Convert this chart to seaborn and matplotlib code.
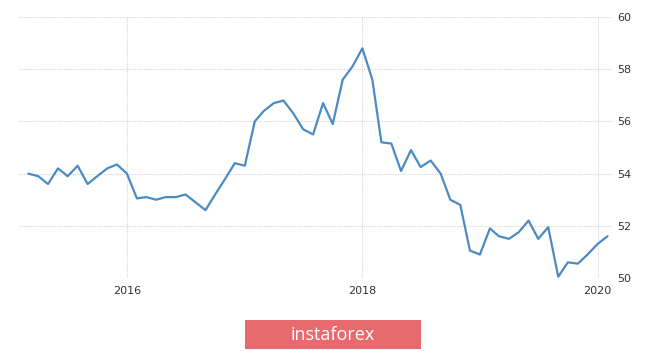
import numpy as np
import pandas as pd
import seaborn as sns
import matplotlib.pyplot as plt
import matplotlib.dates as mdates
from matplotlib.patches import Rectangle

# monthly index values, Mar 2015 .. Feb 2020
months = pd.date_range("2015-03-01", periods=60, freq="MS")
values = [
    54.0, 53.9, 53.6, 54.2, 53.9, 54.3, 53.6, 53.9, 54.2, 54.35,   # 2015
    54.0, 53.05, 53.1, 53.0, 53.1, 53.1, 53.2, 52.9, 52.6, 53.2,   # 2016
    53.8, 54.4, 54.3, 56.0, 56.4, 56.7, 56.8, 56.3, 55.7, 55.5,    # 2017
    56.7, 55.9, 57.6, 58.1, 58.8, 57.6, 55.2, 55.15, 54.1, 54.9,   # 2018
    54.25, 54.5, 54.0, 53.0, 52.8, 51.05, 50.9, 51.9, 51.6, 51.5,
    51.75, 52.2, 51.5, 51.95, 50.05, 50.6, 50.55, 50.9, 51.3, 51.6,
]
y_ticks = [50, 52, 54, 56, 58, 60]
x_tick_years = [2016, 2018, 2020]

df = pd.DataFrame({"month": months, "value": values})

sns.set_style("white")
fig = plt.figure(figsize=(6.65, 3.51), dpi=100)
ax = fig.add_axes([19 / 665, 1 - 278 / 351, (612 - 19) / 665, (278 - 17) / 351])

sns.lineplot(data=df, x="month", y="value", ax=ax, color="#4b8bc5",
             linewidth=1.6, solid_joinstyle="round", solid_capstyle="round")

ax.set_xlim(pd.Timestamp("2015-01-31"), pd.Timestamp("2020-02-15"))
ax.set_ylim(50, 60)
ax.set_yticks(y_ticks)
ax.set_xticks([pd.Timestamp(f"{y}-01-01") for y in x_tick_years])
ax.xaxis.set_major_formatter(mdates.DateFormatter("%Y"))
ax.yaxis.tick_right()
ax.tick_params(axis="both", length=0, labelsize=8, colors="#333333")
ax.tick_params(axis="y", pad=4)
ax.tick_params(axis="x", pad=6)
ax.grid(True, color="#d6d6d6", linestyle=(0, (1, 1)), linewidth=0.8)
ax.set_xlabel("")
ax.set_ylabel("")
for s in ax.spines.values():
    s.set_visible(False)

# watermark badge
fig.add_artist(Rectangle((245 / 665, 1 - 349 / 351), 176 / 665, 29 / 351,
                         transform=fig.transFigure, facecolor="#e76a6e",
                         edgecolor="none"))
fig.text(333 / 665, 1 - 334.5 / 351, "instaforex", color="white",
         fontsize=13, ha="center", va="center", family="Open Sans")

fig.savefig("out.png", dpi=100)
